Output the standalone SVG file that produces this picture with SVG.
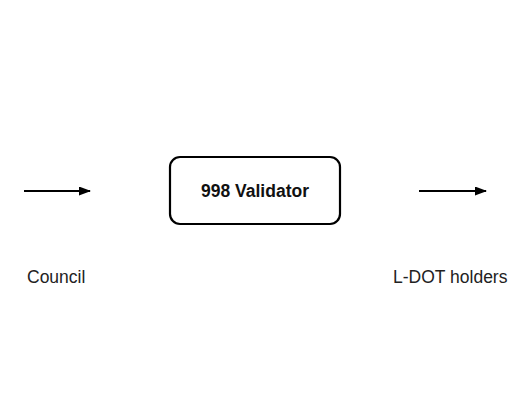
<svg xmlns="http://www.w3.org/2000/svg" width="520" height="400" viewBox="0 0 520 400">
<style>
.conn{stroke:#000;stroke-width:2;fill:none}
.box{fill:#fff;stroke:#000;stroke-width:2.2}
.lbl{font-family:"Liberation Sans",Arial,sans-serif;font-size:17.5px;fill:#222}
.title{font-family:"Liberation Sans",Arial,sans-serif;font-size:17.5px;font-weight:bold;fill:#111}
</style>
<defs>
<marker id="ah" viewBox="0 0 12 9" refX="11" refY="4.5" markerWidth="12" markerHeight="9" markerUnits="userSpaceOnUse" orient="auto">
<path d="M0,0 L12,4.5 L0,9 z" fill="#000"/>
</marker>
</defs>
<rect width="520" height="400" fill="#fff"/>
<g id="connectors">
<path class="conn" d="M24,191 H90" marker-end="url(#ah)"/>
<path class="conn" d="M419,191 H486" marker-end="url(#ah)"/>
</g>
<g id="validator">
<rect class="box" x="170" y="157" width="170" height="67" rx="10"/>
<text class="title" x="255" y="197" text-anchor="middle">998 Validator</text>
</g>
<g id="council">
<text class="lbl" x="27" y="283">Council</text>
</g>
<g id="ldot">
<text class="lbl" x="393" y="283">L-DOT holders</text>
</g>
</svg>
